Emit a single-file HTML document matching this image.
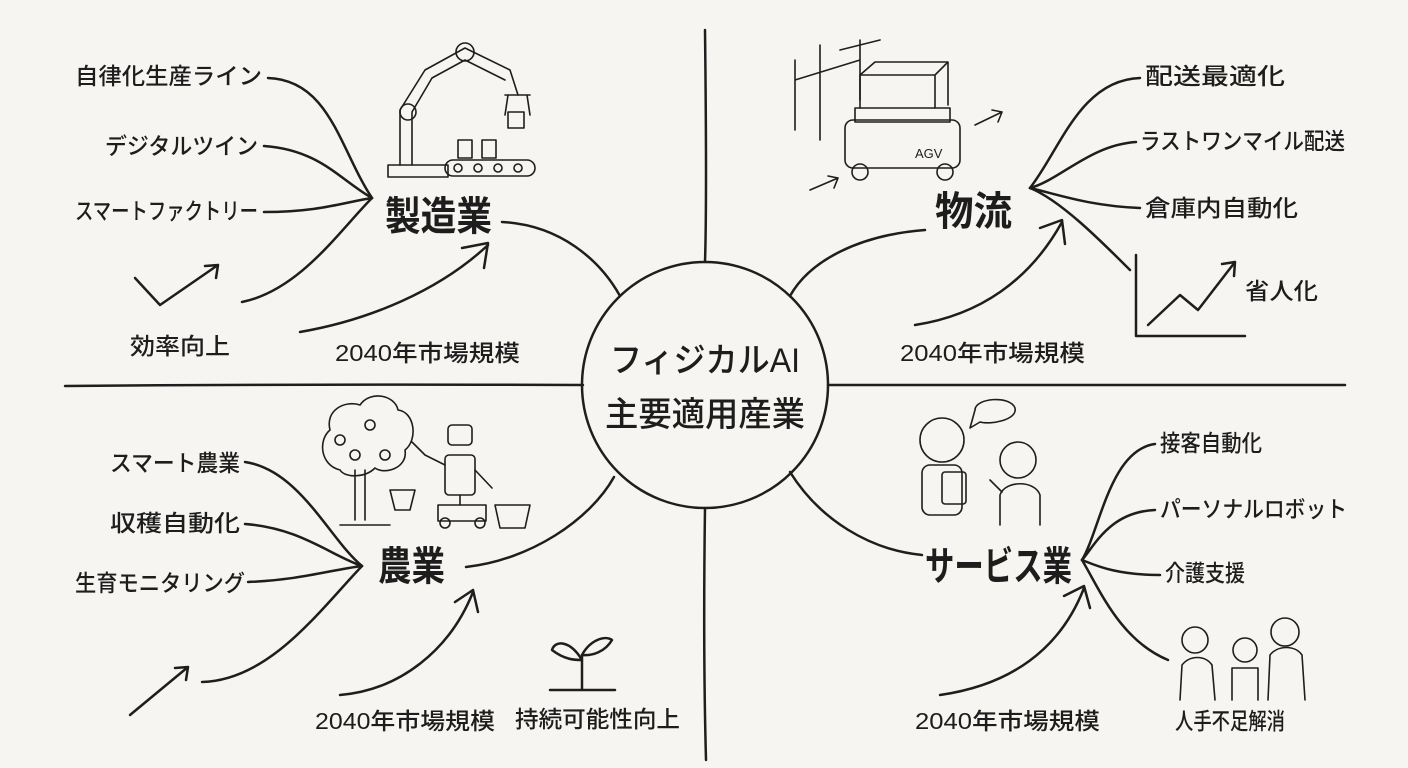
<!DOCTYPE html>
<html><head><meta charset="utf-8"><style>
html,body{margin:0;padding:0;background:#f6f5f1;}
svg{display:block}
text{font-family:"Liberation Sans","Noto Sans CJK JP",sans-serif;fill:#1d1d1d}
.l{font-size:23px;font-weight:500}
.h{font-size:40px;font-weight:700}
.c{font-size:34px;font-weight:500}
path,line,circle,rect,ellipse,polyline{stroke:#1e1e1e;fill:none;stroke-width:2.5;stroke-linecap:round;stroke-linejoin:round}
.t{stroke-width:1.6}
</style></head><body>
<svg width="1408" height="768" viewBox="0 0 1408 768">
<path d="M705 30 Q707 200 705 262"/>
<path d="M705 508 Q703 650 706 760"/>
<path d="M65 386 Q300 384 583 385"/>
<path d="M828 385 Q1100 386 1345 385"/>
<circle cx="705" cy="385" r="123"/>
<text class="c" x="610" y="372" textLength="190" lengthAdjust="spacingAndGlyphs">フィジカルAI</text>
<text class="c" x="605" y="426" textLength="200" lengthAdjust="spacingAndGlyphs">主要適用産業</text>

<!-- TL -->
<text class="h" x="385" y="230" textLength="107" lengthAdjust="spacingAndGlyphs">製造業</text>
<text class="l" x="75" y="84" textLength="187" lengthAdjust="spacingAndGlyphs">自律化生産ライン</text>
<text class="l" x="105" y="154" textLength="153" lengthAdjust="spacingAndGlyphs">デジタルツイン</text>
<text class="l" x="75" y="219" textLength="183" lengthAdjust="spacingAndGlyphs">スマートファクトリー</text>
<text class="l" x="130" y="354" textLength="100" lengthAdjust="spacingAndGlyphs">効率向上</text>
<path d="M268 78 C330 80 340 150 372 198"/>
<path d="M264 146 C320 150 340 180 372 198"/>
<path d="M264 212 C320 212 345 202 372 198"/>
<path d="M242 302 C300 290 340 230 372 198"/>
<path d="M135 278 L160 305 L218 265 M205 266 L218 265 L216 278"/>
<path d="M300 332 C370 320 440 290 488 245 M462 248 L488 243 L484 268"/>
<text class="l" x="335" y="361" textLength="185" lengthAdjust="spacingAndGlyphs">2040年市場規模</text>
<path d="M502 222 C560 225 600 260 620 296"/>
<rect class="t" x="388" y="165" width="60" height="12"/>
<path class="t" d="M400 165 L400 110 L425 70 L465 48 L510 70 L518 95"/>
<path class="t" d="M412 165 L412 112 L432 78 L465 60 L505 80"/>
<circle class="t" cx="465" cy="52" r="9"/><circle class="t" cx="408" cy="112" r="8"/>
<path class="t" d="M505 95 L530 95 M508 95 L505 115 M527 95 L530 115"/>
<rect class="t" x="508" y="112" width="16" height="16"/>
<rect class="t" x="445" y="160" width="90" height="16" rx="8"/>
<circle class="t" cx="458" cy="168" r="4"/><circle class="t" cx="478" cy="168" r="4"/><circle class="t" cx="498" cy="168" r="4"/><circle class="t" cx="518" cy="168" r="4"/>
<rect class="t" x="458" y="140" width="14" height="18"/><rect class="t" x="482" y="140" width="14" height="18"/>

<!-- TR -->
<text class="h" x="935" y="225" textLength="77" lengthAdjust="spacingAndGlyphs">物流</text>
<text class="l" x="1145" y="84" textLength="140" lengthAdjust="spacingAndGlyphs">配送最適化</text>
<text class="l" x="1140" y="149" textLength="205" lengthAdjust="spacingAndGlyphs">ラストワンマイル配送</text>
<text class="l" x="1145" y="216" textLength="153" lengthAdjust="spacingAndGlyphs">倉庫内自動化</text>
<text class="l" x="1245" y="299" textLength="73" lengthAdjust="spacingAndGlyphs">省人化</text>
<path d="M1140 78 C1080 80 1060 150 1030 188"/>
<path d="M1136 142 C1090 145 1060 180 1030 188"/>
<path d="M1140 208 C1090 206 1060 195 1030 188"/>
<path d="M1130 270 C1100 240 1060 200 1030 188"/>
<path d="M1136 255 L1136 336 L1245 336"/>
<path d="M1148 325 L1180 295 L1198 310 L1235 262 M1222 264 L1235 262 L1234 276"/>
<path d="M915 325 C980 315 1030 280 1062 222 M1040 228 L1062 220 L1065 244"/>
<text class="l" x="900" y="361" textLength="185" lengthAdjust="spacingAndGlyphs">2040年市場規模</text>
<path d="M790 296 C810 260 860 235 925 230"/>
<path class="t" d="M795 60 L795 130 M820 45 L820 140 M795 80 L860 60 M860 40 L860 100 M840 50 L880 40"/>
<rect class="t" x="845" y="120" width="115" height="48" rx="8"/>
<rect class="t" x="855" y="108" width="95" height="14"/>
<path class="t" d="M860 108 L860 75 L935 75 L935 108 M860 75 L875 62 L948 62 L935 75 M948 62 L948 105"/>
<text x="915" y="158" style="font-size:13px">AGV</text>
<circle class="t" cx="860" cy="172" r="8"/><circle class="t" cx="945" cy="172" r="8"/>
<path class="t" d="M810 190 L838 178 M828 176 L838 178 L834 188"/>
<path class="t" d="M975 125 L1002 112 M992 110 L1002 112 L998 122"/>

<!-- BL -->
<text class="h" x="378" y="580" textLength="67" lengthAdjust="spacingAndGlyphs">農業</text>
<text class="l" x="110" y="471" textLength="130" lengthAdjust="spacingAndGlyphs">スマート農業</text>
<text class="l" x="110" y="531" textLength="130" lengthAdjust="spacingAndGlyphs">収穫自動化</text>
<text class="l" x="75" y="591" textLength="170" lengthAdjust="spacingAndGlyphs">生育モニタリング</text>
<path d="M245 462 C300 470 330 540 362 566"/>
<path d="M245 524 C300 528 330 555 362 566"/>
<path d="M248 582 C300 580 330 570 362 566"/>
<path d="M202 682 C270 680 320 610 362 566"/>
<path d="M130 715 L188 667 M175 668 L188 667 L186 680"/>
<path d="M340 695 C400 690 450 650 473 592 M455 602 L473 590 L478 612"/>
<text class="l" x="315" y="729" textLength="180" lengthAdjust="spacingAndGlyphs">2040年市場規模</text>
<text class="l" x="515" y="727" textLength="165" lengthAdjust="spacingAndGlyphs">持続可能性向上</text>
<path d="M582 690 L582 655 M582 660 C570 640 555 640 552 650 C565 660 575 660 582 660 M582 655 C590 640 605 635 612 640 C605 652 592 656 582 655 M550 690 L615 690"/>
<path d="M466 567 C530 560 590 520 614 477"/>
<path class="t" d="M355 520 L355 470 M365 520 L365 470 M340 470 C320 465 318 440 330 430 C325 410 345 400 360 405 C370 390 395 395 398 410 C415 412 418 440 405 450 C408 468 385 475 375 468 C365 478 345 478 340 470 M340 525 L390 525"/>
<circle class="t" cx="340" cy="440" r="5"/><circle class="t" cx="370" cy="425" r="5"/><circle class="t" cx="385" cy="455" r="5"/><circle class="t" cx="355" cy="455" r="5"/>
<rect class="t" x="448" y="425" width="24" height="20" rx="4"/>
<rect class="t" x="445" y="455" width="30" height="40" rx="4"/>
<path class="t" d="M445 465 L425 455 L412 442 M475 470 L492 488 M460 495 L460 505"/>
<rect class="t" x="438" y="505" width="48" height="16"/>
<circle class="t" cx="445" cy="523" r="5"/><circle class="t" cx="480" cy="523" r="5"/>
<path class="t" d="M390 490 L415 490 L410 510 L395 510 Z M495 505 L530 505 L525 528 L500 528 Z"/>

<!-- BR -->
<text class="h" x="925" y="580" textLength="147" lengthAdjust="spacingAndGlyphs">サービス業</text>
<text class="l" x="1160" y="451" textLength="102" lengthAdjust="spacingAndGlyphs">接客自動化</text>
<text class="l" x="1160" y="517" textLength="187" lengthAdjust="spacingAndGlyphs">パーソナルロボット</text>
<text class="l" x="1165" y="581" textLength="80" lengthAdjust="spacingAndGlyphs">介護支援</text>
<text class="l" x="1175" y="729" textLength="110" lengthAdjust="spacingAndGlyphs">人手不足解消</text>
<path d="M1155 444 C1110 450 1100 530 1082 560"/>
<path d="M1155 510 C1110 512 1095 545 1082 560"/>
<path d="M1160 575 C1115 575 1095 565 1082 560"/>
<path d="M1168 660 C1120 640 1100 590 1082 560"/>
<path d="M940 695 C1010 685 1060 650 1084 588 M1064 596 L1084 586 L1090 608"/>
<text class="l" x="915" y="729" textLength="185" lengthAdjust="spacingAndGlyphs">2040年市場規模</text>
<path d="M790 472 C820 520 870 550 922 555"/>
<circle class="t" cx="942" cy="440" r="22"/>
<rect class="t" x="922" y="465" width="40" height="50" rx="8"/>
<rect class="t" x="942" y="472" width="24" height="32" rx="3"/>
<path class="t" d="M975 410 C975 398 1010 395 1015 408 C1018 420 990 425 980 422 L970 428 Z"/>
<circle class="t" cx="1018" cy="460" r="18"/>
<path class="t" d="M1000 525 L1000 495 C1005 480 1035 480 1040 495 L1040 525 M990 480 L1002 492"/>
<circle class="t" cx="1195" cy="640" r="13"/><circle class="t" cx="1245" cy="650" r="12"/><circle class="t" cx="1285" cy="632" r="14"/>
<path class="t" d="M1180 700 L1182 665 C1190 655 1205 655 1212 665 L1215 700 M1232 700 L1232 668 L1258 668 L1258 700 M1268 700 L1270 655 C1278 645 1295 645 1302 655 L1305 700"/>
</svg>
</body></html>
